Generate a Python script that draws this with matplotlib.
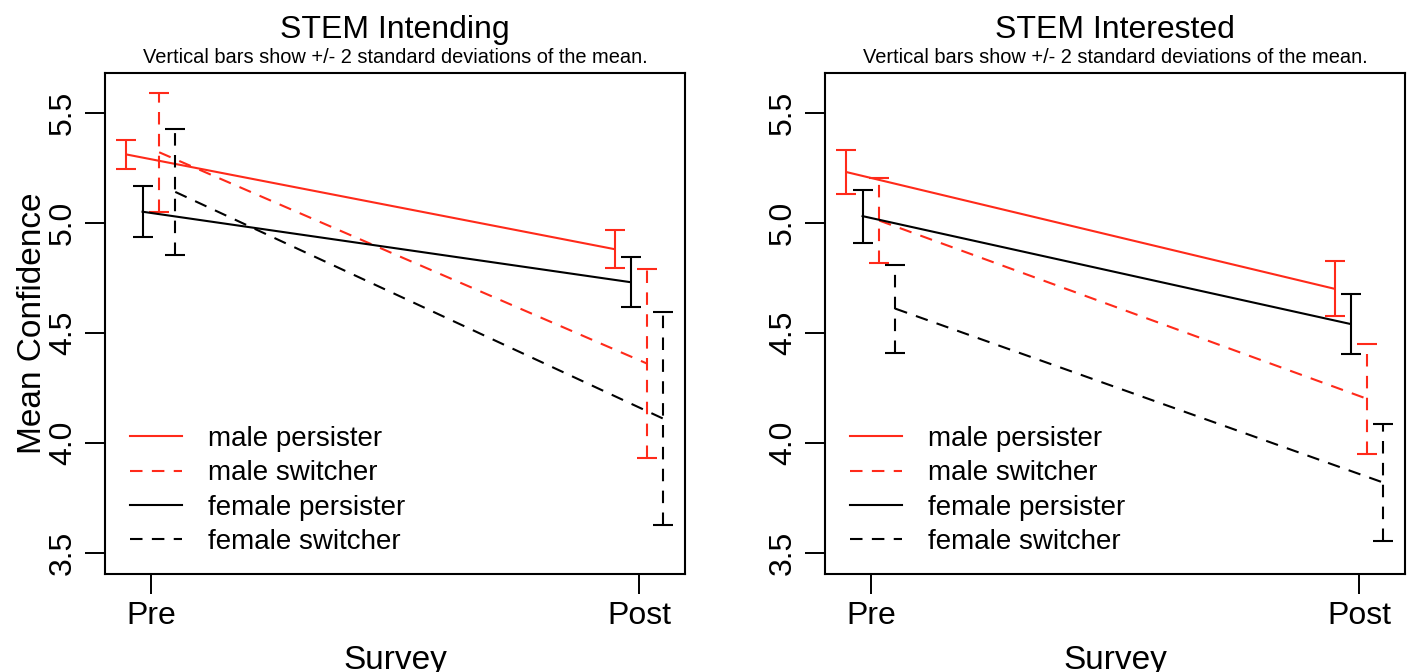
import numpy as np
import matplotlib.pyplot as plt

plt.rcParams['font.family'] = ['Liberation Sans', 'DejaVu Sans']

# survey waves and groups
surveys = ['Pre', 'Post']
groups = ['male persister', 'male switcher', 'female persister', 'female switcher']

# STEM Intending: means and 2 SD half-widths (Pre, Post)
intending_mean = {
    'male persister': [5.31, 4.88],
    'male switcher': [5.32, 4.36],
    'female persister': [5.05, 4.73],
    'female switcher': [5.14, 4.11],
}
intending_err = {
    'male persister': [0.066, 0.087],
    'male switcher': [0.27, 0.43],
    'female persister': [0.115, 0.113],
    'female switcher': [0.285, 0.483],
}

# STEM Interested
interested_mean = {
    'male persister': [5.23, 4.70],
    'male switcher': [5.01, 4.20],
    'female persister': [5.03, 4.54],
    'female switcher': [4.61, 3.82],
}
interested_err = {
    'male persister': [0.10, 0.125],
    'male switcher': [0.195, 0.25],
    'female persister': [0.12, 0.136],
    'female switcher': [0.20, 0.265],
}

RED = '#FF2A1A'
styles = {
    'male persister': (RED, '-', -0.05),
    'male switcher': (RED, (0, (6, 4.5)), 0.017),
    'female persister': ('black', '-', -0.017),
    'female switcher': ('black', (0, (6, 4.5)), 0.05),
}

fig = plt.figure(figsize=(14.11, 6.72), dpi=100)
ax1 = fig.add_axes([0.0744, 0.1458, 0.411, 0.7456])
ax2 = fig.add_axes([0.5847, 0.1458, 0.411, 0.7456])

panels = [
    (ax1, 'STEM Intending', intending_mean, intending_err),
    (ax2, 'STEM Interested', interested_mean, interested_err),
]

x = np.arange(1, len(surveys) + 1)

for ax, title, means, errs in panels:
    for g in groups:
        color, ls, off = styles[g]
        xs = x + off
        ax.plot(xs, means[g], color=color, linestyle=ls, linewidth=1.5, label=g)
        eb = ax.errorbar(xs, means[g], yerr=errs[g], fmt='none', ecolor=color,
                         elinewidth=1.5, capsize=7.5, capthick=1.5)
        eb[2][0].set_linestyle(ls)

    ax.set_xlim(0.906, 2.094)
    ax.set_ylim(3.405, 5.68)
    ax.set_xticks(x)
    ax.set_xticklabels(surveys, fontsize=23)
    ax.set_yticks([3.5, 4.0, 4.5, 5.0, 5.5])
    ax.set_yticklabels(['3.5', '4.0', '4.5', '5.0', '5.5'], fontsize=23,
                       rotation=90, va='center')
    ax.tick_params(length=14.4, width=1.4, pad=5)
    for sp in ax.spines.values():
        sp.set_linewidth(1.5)
    ax.set_xlabel('Survey', fontsize=24, labelpad=10)

    ax.annotate(title, xy=(0.5, 1), xycoords='axes fraction',
                xytext=(0, 25.5), textcoords='offset points',
                ha='center', va='baseline', fontsize=23)
    ax.annotate('Vertical bars show +/- 2 standard deviations of the mean.',
                xy=(0.5, 1), xycoords='axes fraction',
                xytext=(0, 7.2), textcoords='offset points',
                ha='center', va='baseline', fontsize=14.4)

    ax.legend(loc='lower left', bbox_to_anchor=(0.043, 0.038), frameon=False,
              fontsize=20, handlelength=1.87, handletextpad=0.94,
              labelspacing=0.3, borderpad=0, borderaxespad=0)

ax1.set_ylabel('Mean Confidence', fontsize=24, labelpad=0)

plt.savefig('out.png', dpi=100)
